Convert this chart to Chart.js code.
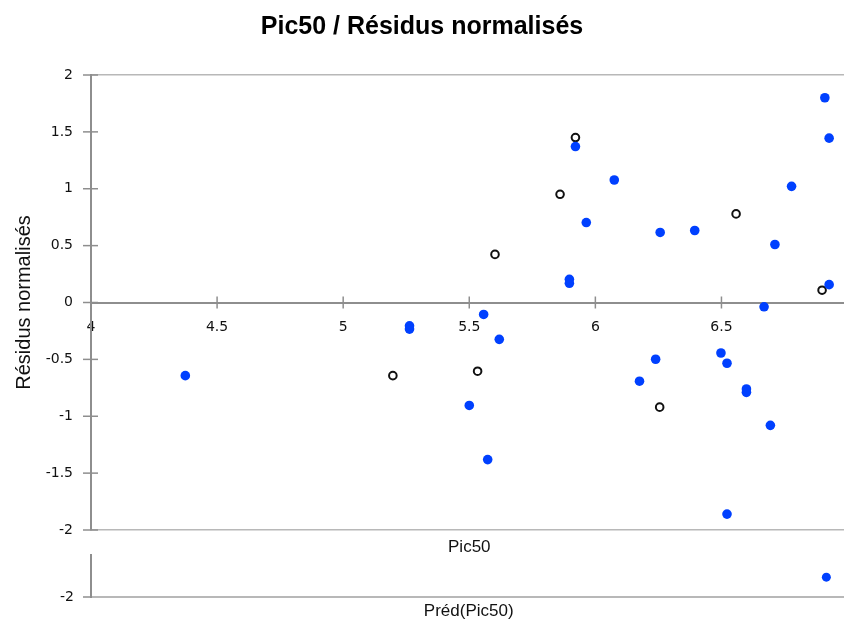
<!DOCTYPE html>
<html>
<head>
<meta charset="utf-8">
<script src="https://cdn.jsdelivr.net/npm/chart.js@4/dist/chart.umd.min.js"></script>
<style>
  html, body { margin: 0; padding: 0; background: #fff; overflow: hidden; width: 844px; height: 623px; }
  #wrap { position: relative; width: 844px; height: 623px; overflow: hidden; }
  #main { position: absolute; left: 0; top: 0; }
  #pred { position: absolute; left: 0; top: 539px; }
</style>
</head>
<body>
<div id="wrap">
  <canvas id="main" width="868" height="560"></canvas>
  <canvas id="pred" width="851" height="84"></canvas>
</div>
<script>
// ---- data ----
const titleText = 'Pic50 / Résidus normalisés';
const yTitle = 'Résidus normalisés';
const xTitle = 'Pic50';
const x2Title = 'Préd(Pic50)';

// filled blue points: predicted Pic50 / normalised residual
const bluePred  = [6.910, 5.921, 6.927, 6.075, 6.778, 5.964, 6.257, 6.394, 6.712, 5.897, 5.897, 6.927, 5.557, 6.669, 5.263, 5.263, 4.374, 5.619, 6.239, 6.175, 6.498, 6.522, 6.599, 6.599, 5.500, 6.694, 5.573, 6.522];
const blueResid = [1.800, 1.371, 1.445, 1.077, 1.021, 0.703, 0.616, 0.633, 0.510, 0.204, 0.169, 0.157, -0.105, -0.038, -0.205, -0.234, -0.643, -0.324, -0.499, -0.692, -0.444, -0.534, -0.760, -0.790, -0.905, -1.080, -1.381, -1.860];

// open circles
const openPred  = [5.921, 5.860, 6.558, 5.602, 6.899, 5.197, 5.533, 6.255];
const openResid = [1.450, 0.951, 0.779, 0.423, 0.108, -0.643, -0.604, -0.920];

// lower panel point
const lowerPred  = [6.920];
const lowerResid = [-1.830];

const xMin = 4, xMax = 7, xStep = 0.5;
const yMin = -2, yMax = 2, yStep = 0.5;

// ---- styling ----
const BLUE = '#0040ff';
const AXIS = '#8e8e8e';
const GRID = '#b8b8b8';
const tickFont = { family: 'DejaVu Sans', size: 14 };
const titleFontFam = 'Liberation Sans';
const fmt = v => String(Math.round(v * 100) / 100);

const toPts = (xs, ys) => xs.map((x, i) => ({ x: x, y: ys[i] }));

const crossTicks = {
  id: 'crossTicks',
  beforeDatasetsDraw(chart, args, opts) {
    const ctx = chart.ctx;
    ctx.save();
    ctx.strokeStyle = AXIS;
    ctx.lineWidth = 1.5;
    const xs = chart.scales.x, ys = chart.scales.y;
    if (opts.xCross) {
      const y0 = ys.getPixelForValue(opts.xAt);
      xs.ticks.forEach(t => {
        const px = xs.getPixelForValue(t.value);
        ctx.beginPath(); ctx.moveTo(px, y0 - 6); ctx.lineTo(px, y0 + 6); ctx.stroke();
      });
    }
    const xl = xs.getPixelForValue(xMin);
    ys.ticks.forEach(t => {
      const py = ys.getPixelForValue(t.value);
      ctx.beginPath(); ctx.moveTo(xl - 8, py); ctx.lineTo(xl + (opts.yRight || 0), py); ctx.stroke();
    });
    ctx.restore();
  }
};

new Chart(document.getElementById('main'), {
  type: 'scatter',
  data: {
    datasets: [
      {
        label: 'blue',
        data: toPts(bluePred, blueResid),
        backgroundColor: BLUE,
        borderColor: BLUE,
        borderWidth: 0,
        pointRadius: 4.8,
        order: 0
      },
      {
        label: 'open',
        data: toPts(openPred, openResid),
        backgroundColor: '#ffffff',
        borderColor: '#111111',
        borderWidth: 2,
        pointRadius: 3.8,
        order: 1
      }
    ]
  },
  options: {
    responsive: false,
    animation: false,
    devicePixelRatio: 1,
    layout: { padding: { left: 0, right: 0, top: 0, bottom: 0 } },
    plugins: {
      legend: { display: false },
      tooltip: { enabled: false },
      title: {
        display: true,
        text: titleText,
        color: '#000',
        font: { family: titleFontFam, size: 25, weight: 'bold' },
        padding: { top: 12, bottom: 33 },
        align: 'start',
        fullSize: true
      },
      crossTicks: { xCross: true, xAt: 0, yRight: 7 }
    },
    scales: {
      x: {
        type: 'linear',
        min: xMin, max: xMax,
        position: { y: 0 },
        ticks: { stepSize: xStep, font: tickFont, color: '#111', padding: 16, maxRotation: 0, autoSkip: false, callback: fmt },
        grid: { display: false, drawTicks: false },
        border: { display: true, color: AXIS, width: 2 }
      },
      x2: {
        type: 'linear',
        min: xMin, max: xMax,
        position: 'bottom',
        ticks: { display: false },
        grid: { display: false, drawTicks: false },
        border: { display: false },
        title: { display: true, text: xTitle, color: '#111', font: { family: titleFontFam, size: 17 }, padding: { top: 0, bottom: 2 } },
        afterFit: s => { s.height = 30; }
      },
      y: {
        type: 'linear',
        min: yMin, max: yMax,
        position: 'left',
        ticks: { stepSize: yStep, font: tickFont, color: '#111', padding: 18, callback: fmt },
        grid: {
          drawTicks: false,
          lineWidth: 1.5,
          color: c => (c.tick && Math.abs(Math.abs(c.tick.value) - 2) < 1e-9) ? GRID : 'rgba(0,0,0,0)'
        },
        border: { display: true, color: AXIS, width: 2 },
        title: { display: true, text: yTitle, color: '#111', font: { family: titleFontFam, size: 20 }, padding: { top: 12, bottom: 0 } },
        afterFit: s => { s.width = 91; }
      }
    }
  },
  plugins: [crossTicks, {
    id: 'centerTitle',
    // keep the title centred on the visible 844px window rather than the wider canvas
    beforeDraw(chart) {
      const t = chart.titleBlock;
      if (t) { t.left = 0; t.right = 844; t.width = 844; t.options.align = 'center'; }
    }
  }]
});

new Chart(document.getElementById('pred'), {
  type: 'scatter',
  data: {
    datasets: [{
      label: 'lower',
      data: toPts(lowerPred, lowerResid),
      backgroundColor: BLUE,
      borderColor: BLUE,
      borderWidth: 0,
      pointRadius: 4.5
    }]
  },
  options: {
    responsive: false,
    animation: false,
    devicePixelRatio: 1,
    layout: { padding: { left: 0, right: 4, top: 16, bottom: 0 } },
    plugins: {
      legend: { display: false },
      tooltip: { enabled: false },
      title: { display: false },
      crossTicks: { xCross: false, yRight: 0 }
    },
    scales: {
      x: {
        type: 'linear',
        min: xMin, max: xMax,
        position: 'bottom',
        ticks: { display: false },
        grid: { display: false, drawTicks: false },
        border: { display: true, color: GRID, width: 2 },
        title: { display: true, text: x2Title, color: '#111', font: { family: titleFontFam, size: 17 }, padding: { top: 0, bottom: 1 } },
        afterFit: s => { s.height = 26; }
      },
      y: {
        type: 'linear',
        min: yMin, max: -1.64,
        position: 'left',
        afterBuildTicks: s => { s.ticks = [{ value: yMin }]; },
        ticks: { font: tickFont, color: '#111', padding: 17, callback: fmt },
        grid: { display: false, drawTicks: false },
        border: { display: true, color: AXIS, width: 2 },
        afterFit: s => { s.width = 91; s.paddingTop = 0; }
      }
    }
  },
  plugins: [crossTicks]
});
</script>
</body>
</html>
